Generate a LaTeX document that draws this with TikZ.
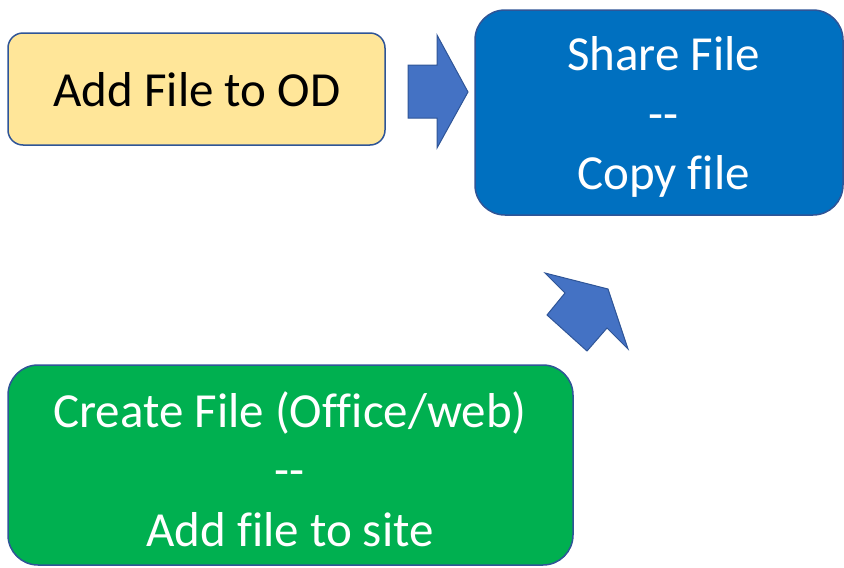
\documentclass[tikz,border=0pt]{standalone}
\usepackage{fontspec}
\setmainfont{Carlito}[Ligatures={NoCommon}]
\definecolor{yel}{HTML}{FFE699}
\definecolor{blu}{HTML}{0070C0}
\definecolor{grn}{HTML}{00B050}
\definecolor{edge}{HTML}{2F5597}
\definecolor{arr}{HTML}{4472C4}
\tikzset{
  box/.style={draw=edge, line width=1.5pt, inner sep=0pt},
  boxtext/.style={inner sep=0pt, align=center, font=\fontsize{49}{59.5}\selectfont},
  blockarrow/.style={fill=arr, draw=edge, line width=1pt, line join=miter}
}
\begin{document}
\begin{tikzpicture}[x=1pt,y=-1pt]
\useasboundingbox (0,0) rectangle (844,568);
\node[box, fill=yel, rounded corners=15pt, minimum width=377pt, minimum height=112pt] (od) at (196.5,89) {};
\node[boxtext] (odtext) at (197,90) {Add File to OD};
\node[box, fill=blu, rounded corners=30pt, minimum width=368pt, minimum height=205pt] (share) at (659,112.5) {};
\node[boxtext, text=white] (sharetext) at (663.5,117) {Share File\\-{}-\\Copy file};
\node[box, fill=grn, rounded corners=30pt, minimum width=565pt, minimum height=200pt] (create) at (290.5,465) {};
\node[boxtext, text=white] (createtext) at (290,469) {Create File (Office/web)\\-{}-\\Add file to site};
% right block arrow
\draw[blockarrow] (408,65) -- (437,65) -- (437,35) -- (468,92) -- (437,148) -- (437,118) -- (408,118) -- cycle;
% diagonal block arrow
\draw[blockarrow] (547,315) -- (565,293) -- (545,273) -- (608,289) -- (628,349) -- (607,328) -- (587,351) -- cycle;
\end{tikzpicture}
\end{document}
